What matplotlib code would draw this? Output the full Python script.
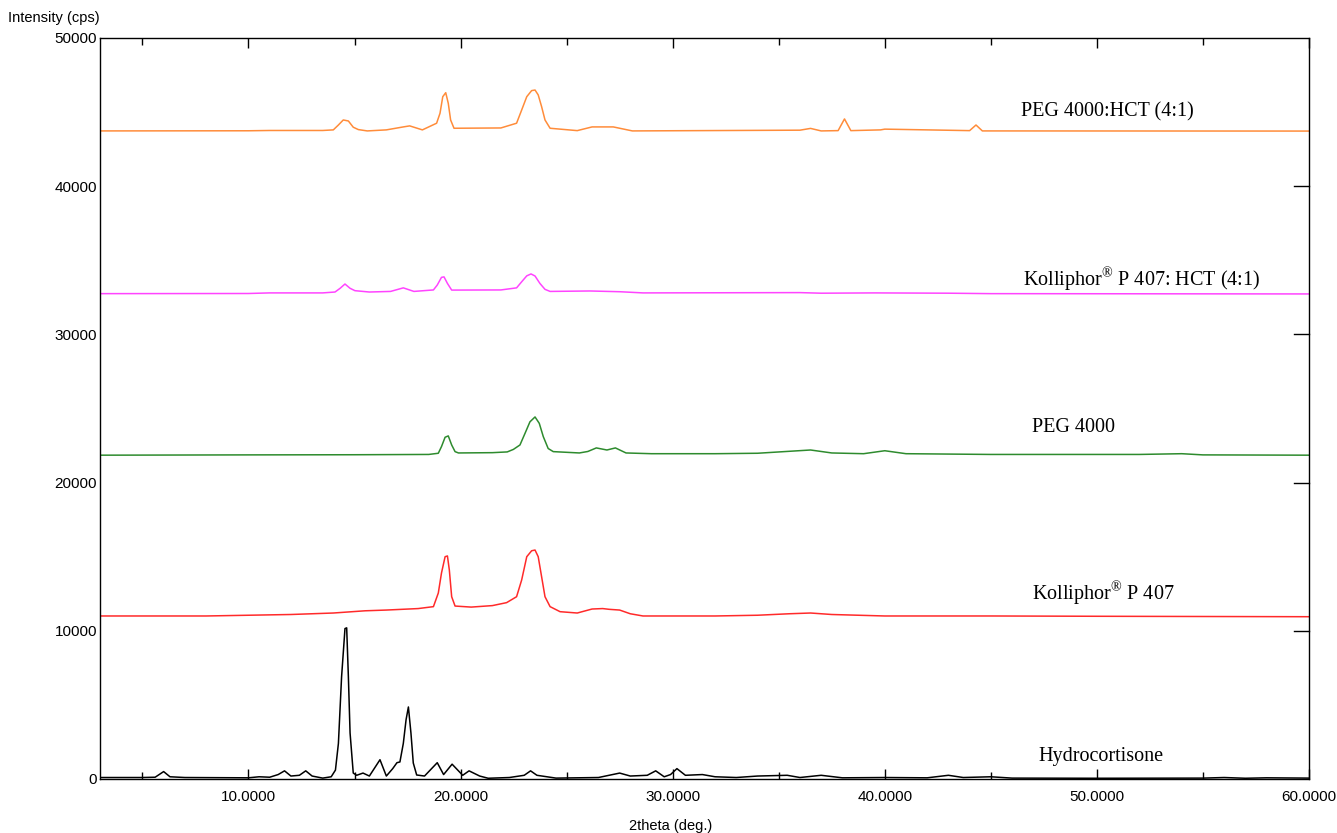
import numpy as np
import matplotlib
matplotlib.use("Agg")
import matplotlib.pyplot as plt
from matplotlib.ticker import MultipleLocator

plt.rcParams['mathtext.fontset'] = 'custom'
plt.rcParams['mathtext.rm'] = 'Liberation Serif'

# XRD patterns: 2theta (deg.) and intensity (cps)
hct_x = [3.0, 5.0, 5.6, 6.0, 6.3, 7.0, 10.0, 10.5, 11.0, 11.4, 11.7, 12.0, 12.4, 12.7, 13.0, 13.5,
         13.9, 14.1, 14.24, 14.39, 14.55, 14.63, 14.71, 14.79, 14.94, 15.1, 15.4, 15.7, 16.2, 16.5,
         16.8, 17.0, 17.14, 17.3, 17.43, 17.54, 17.66, 17.77, 17.93, 18.3, 18.9, 19.2, 19.6, 20.1,
         20.4, 20.9, 21.3, 22.3, 23.0, 23.3, 23.6, 24.5, 26.5, 27.5, 28.0, 28.8, 29.2, 29.6, 29.9,
         30.2, 30.6, 31.4, 32.0, 33.0, 34.0, 35.4, 36.0, 37.0, 38.0, 40.0, 42.0, 43.0, 43.7, 45.0,
         46.0, 50.0, 55.0, 56.0, 57.0, 58.0, 60.0]
hct_y = [100, 100, 120, 500, 150, 100, 80, 150, 120, 300, 550, 200, 250, 550, 200, 60,
         150, 600, 2400, 6900, 10150, 10200, 6900, 3100, 400, 250, 400, 200, 1300, 200,
         700, 1100, 1150, 2400, 4000, 4860, 3100, 1080, 270, 200, 1100, 300, 1000, 250,
         550, 200, 50, 100, 250, 550, 250, 60, 100, 400, 200, 250, 550, 150, 300,
         700, 250, 300, 150, 100, 200, 250, 100, 250, 80, 100, 80, 250, 100, 150,
         60, 50, 60, 100, 50, 80, 60]

kol_x = [3.0, 8.0, 12.0, 14.0, 15.5, 16.5, 18.0, 18.72, 18.95, 19.1, 19.27, 19.38, 19.47, 19.58, 19.74,
         20.5, 21.5, 22.17, 22.64, 22.88, 23.12, 23.35, 23.51, 23.66, 23.82, 23.98, 24.22, 24.69, 25.5,
         26.2, 26.7, 27.0, 27.5, 28.0, 28.6, 32.0, 34.0, 35.5, 36.5, 37.5, 40.0, 45.0, 50.0, 60.0]
kol_y = [11000, 11000, 11100, 11200, 11350, 11400, 11500, 11630, 12550, 13900, 15000, 15050, 14100, 12300, 11670,
         11600, 11700, 11900, 12300, 13430, 15000, 15400, 15450, 15000, 13650, 12300, 11630, 11290, 11200,
         11470, 11500, 11450, 11400, 11150, 11000, 11000, 11050, 11150, 11200, 11100, 11000, 11000, 10980, 10950]

peg_x = [3.0, 10.0, 15.0, 18.5, 18.95, 19.1, 19.27, 19.42, 19.58, 19.74, 19.9, 21.5, 22.2, 22.49, 22.8,
         23.04, 23.27, 23.51, 23.71, 23.9, 24.13, 24.37, 25.6, 26.0, 26.4, 26.9, 27.3, 27.8, 29.0, 32.0,
         34.0, 36.5, 37.5, 39.0, 40.0, 41.0, 45.0, 52.0, 54.0, 55.0, 60.0]
peg_y = [21850, 21870, 21880, 21900, 21980, 22430, 23060, 23150, 22540, 22090, 22000, 22020, 22070, 22240, 22540,
         23330, 24100, 24430, 24000, 23100, 22300, 22090, 22000, 22100, 22340, 22200, 22340, 22000, 21950, 21950,
         21980, 22200, 22000, 21950, 22150, 21950, 21900, 21900, 21950, 21870, 21850]

kolhct_x = [3.0, 10.0, 11.0, 13.5, 14.08, 14.32, 14.55, 14.79, 15.02, 15.7, 16.7, 17.3, 17.8, 18.72, 18.9,
            19.1, 19.22, 19.38, 19.58, 21.9, 22.64, 22.88, 23.12, 23.32, 23.51, 23.74, 23.98, 24.22, 26.1,
            27.5, 28.6, 36.0, 37.0, 39.5, 43.0, 45.0, 60.0]
kolhct_y = [32750, 32760, 32800, 32800, 32860, 33110, 33400, 33110, 32950, 32860, 32900, 33140, 32900, 33000, 33330,
            33850, 33880, 33440, 32990, 33000, 33140, 33550, 33950, 34080, 33940, 33440, 33040, 32900, 32930,
            32880, 32800, 32820, 32780, 32800, 32780, 32750, 32730]

peghct_x = [3.0, 10.0, 11.0, 13.5, 14.0, 14.24, 14.47, 14.71, 14.94, 15.18, 15.6, 16.5, 17.3, 17.6, 18.2,
            18.87, 19.03, 19.16, 19.3, 19.42, 19.53, 19.69, 21.9, 22.64, 22.88, 23.12, 23.35, 23.51, 23.66,
            23.82, 23.98, 24.22, 25.5, 26.2, 27.2, 28.1, 36.0, 36.5, 37.0, 37.8, 38.1, 38.4, 39.8, 40.0,
            44.0, 44.3, 44.6, 60.0]
peghct_y = [43730, 43740, 43760, 43760, 43800, 44130, 44470, 44400, 43980, 43820, 43730, 43800, 44000, 44070, 43800,
            44250, 44920, 46040, 46310, 45590, 44470, 43910, 43930, 44250, 45140, 46040, 46450, 46490, 46160,
            45370, 44470, 43910, 43750, 44000, 44000, 43730, 43780, 43900, 43730, 43750, 44540, 43750, 43800, 43850,
            43750, 44130, 43730, 43720]

colors = ['black', '#ff2a2a', '#2e8b2e', '#ff44ff', '#ff8c3a']
labels = ['Hydrocortisone', 'Kolliphor$^{\u00ae}$ P 407', 'PEG 4000',
          'Kolliphor$^{\u00ae}$ P 407: HCT (4:1)', 'PEG 4000:HCT (4:1)']
label_x = [50.2, 50.3, 48.9, 52.1, 50.5]
label_y = [1550, 12550, 23690, 33740, 45010]

fig = plt.figure(figsize=(13.37, 8.33), dpi=100)
ax = fig.add_axes([100/1337, 1 - 779/833, 1209/1337, 741/833])

for xs, ys, col in zip([hct_x, kol_x, peg_x, kolhct_x, peghct_x],
                       [hct_y, kol_y, peg_y, kolhct_y, peghct_y], colors):
    ax.plot(xs, ys, color=col, lw=1.1)

for t, lx, ly in zip(labels, label_x, label_y):
    ax.text(lx, ly, t, ha='center', va='center', fontsize=14.5,
            family=['Liberation Serif', 'DejaVu Serif'])

ax.set_xlim(3, 60)
ax.set_ylim(0, 50000)
ax.set_xticks([10, 20, 30, 40, 50, 60])
ax.set_xticklabels(['10.0000', '20.0000', '30.0000', '40.0000', '50.0000', '60.0000'])
ax.xaxis.set_minor_locator(MultipleLocator(5))
ax.set_yticks([0, 10000, 20000, 30000, 40000, 50000])
ax.set_yticklabels(['0', '10000', '20000', '30000', '40000', '50000'])

ax.tick_params(axis='x', which='major', direction='in', length=7, top=True, width=1,
               labelsize=11, pad=8)
ax.tick_params(axis='x', which='minor', direction='in', length=5, top=True, width=1)
ax.tick_params(axis='y', which='major', direction='in', length=0, right=False,
               labelsize=11, pad=2)
for y in [10000, 20000, 30000, 40000]:
    ax.plot([59.3, 60], [y, y], color='black', lw=1, clip_on=False)

for lab in ax.get_xticklabels() + ax.get_yticklabels():
    lab.set_family(['Liberation Sans', 'DejaVu Sans'])
for s in ax.spines.values():
    s.set_linewidth(1)

fig.text(8/1337, 1 - 18/833, 'Intensity (cps)', fontsize=10.5, va='center', ha='left',
         family=['Liberation Sans', 'DejaVu Sans'])
fig.text(671/1337, 1 - 826/833, '2theta (deg.)', fontsize=10.5, va='center', ha='center',
         family=['Liberation Sans', 'DejaVu Sans'])

fig.savefig('out.png', dpi=100)
